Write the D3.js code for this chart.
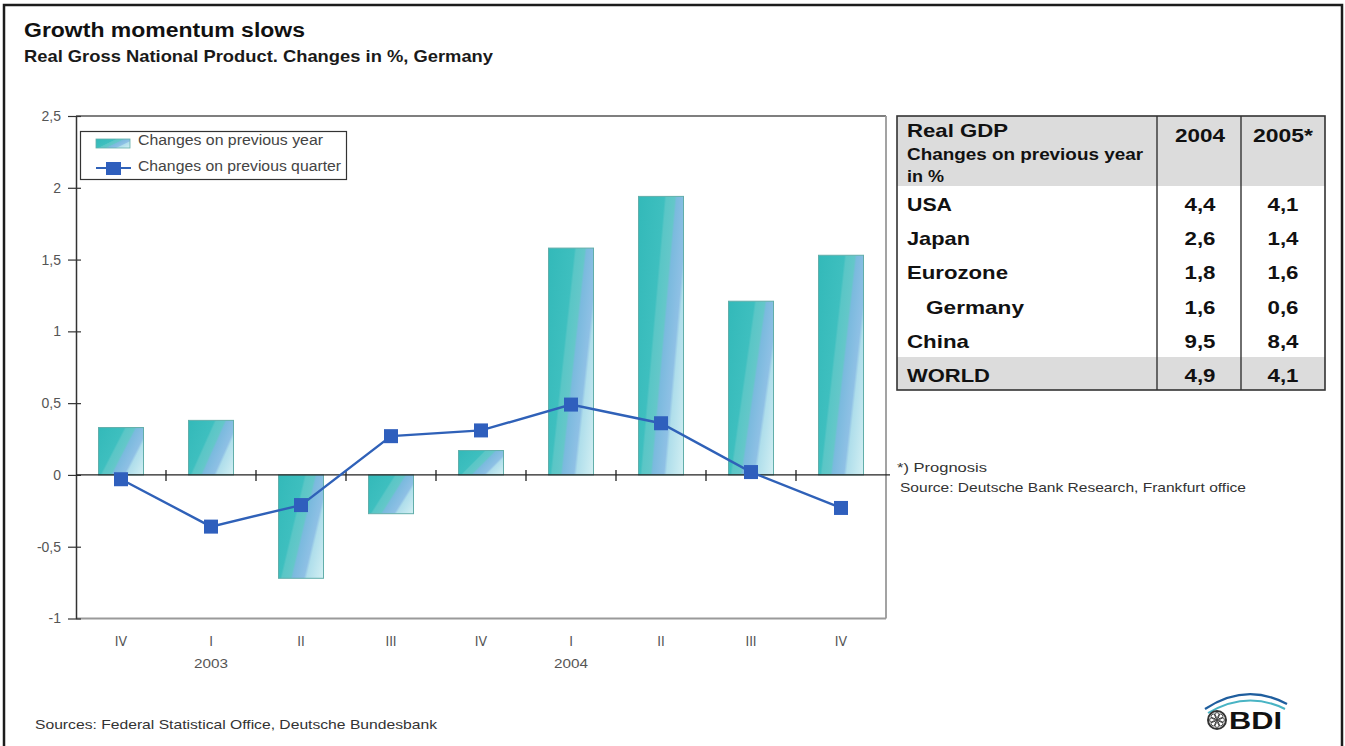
<!DOCTYPE html>
<html>
<head>
<meta charset="utf-8">
<script src="https://cdn.jsdelivr.net/npm/d3@7/dist/d3.min.js"></script>
<style>
  html, body { margin: 0; padding: 0; background: #fff; }
  svg { display: block; font-family: "Liberation Sans", Arial, sans-serif; }
</style>
</head>
<body>
<svg id="chart" width="1345" height="746"></svg>
<script>
// ---------------- data ----------------
const quarters = ["IV", "I", "II", "III", "IV", "I", "II", "III", "IV"];
const yearLabels = ["2003", "2004"];
const yearIndex = [1, 5];
const changePrevYear = [0.33, 0.38, -0.72, -0.27, 0.17, 1.58, 1.94, 1.21, 1.53];
const changePrevQuarter = [-0.03, -0.36, -0.21, 0.27, 0.31, 0.49, 0.36, 0.02, -0.23];
const yTicks = [-1, -0.5, 0, 0.5, 1, 1.5, 2, 2.5];
const legendLabels = ["Changes on previous year", "Changes on previous quarter"];

const tableRegions = ["USA", "Japan", "Eurozone", "Germany", "China", "WORLD"];
const tableIndent = [false, false, false, true, false, false];
const gdp2004 = ["4,4", "2,6", "1,8", "1,6", "9,5", "4,9"];
const gdp2005 = ["4,1", "1,4", "1,6", "0,6", "8,4", "4,1"];
const tableYears = ["2004", "2005*"];

// ---------------- setup ----------------
const svg = d3.select("#chart");
const fmt = d3.formatLocale({decimal: ",", thousands: ".", grouping: [3], currency: ["", ""], minus: "-"}).format("~g");

function fit(sel, w) { return sel.attr("textLength", w).attr("lengthAdjust", "spacingAndGlyphs"); }

// outer frame
svg.append("rect").attr("x", 4).attr("y", 5).attr("width", 1338).attr("height", 760)
  .attr("fill", "none").attr("stroke", "#1c1c1c").attr("stroke-width", 2.5);

// titles
fit(svg.append("text").attr("x", 24).attr("y", 37).attr("font-size", 19.5).attr("font-weight", "bold")
  .attr("fill", "#111").text("Growth momentum slows"), 281);
fit(svg.append("text").attr("x", 24).attr("y", 62).attr("font-size", 17).attr("font-weight", "bold")
  .attr("fill", "#1a1a1a").text("Real Gross National Product. Changes in %, Germany"), 469);

// ---------------- scales ----------------
const x = d3.scaleBand().domain(d3.range(quarters.length)).range([76, 886]).padding(0);
const y = d3.scaleLinear().domain([-1, 2.5]).range([618.5, 116]);

// gradient for bars (diagonal stripes running bottom-left to top-right)
const defs = svg.append("defs");
const grad = defs.append("linearGradient").attr("id", "barGrad")
  .attr("x1", 0).attr("y1", 0).attr("x2", 1.2).attr("y2", 0.65);
[
  [0.00, "#33b9b9"], [0.37, "#3ebfbf"], [0.40, "#5ac6c6"], [0.52, "#64c7c9"],
  [0.55, "#7bbade"], [0.71, "#8ec0e5"], [0.75, "#afdeeb"], [1.00, "#d4f0f3"]
].forEach(([o, c]) => grad.append("stop").attr("offset", o).attr("stop-color", c));

// plot frame
const gFrame = svg.append("g");
gFrame.append("line").attr("x1", 76).attr("x2", 886).attr("y1", y(2.5)).attr("y2", y(2.5))
  .attr("stroke", "#555").attr("stroke-width", 1.3);
gFrame.append("line").attr("x1", 886).attr("x2", 886).attr("y1", y(2.5)).attr("y2", y(-1))
  .attr("stroke", "#999").attr("stroke-width", 1.8);
gFrame.append("line").attr("x1", 76).attr("x2", 886).attr("y1", y(-1)).attr("y2", y(-1))
  .attr("stroke", "#9a9a9a").attr("stroke-width", 2);

// bars
svg.append("g").selectAll("rect").data(changePrevYear).join("rect")
  .attr("x", (d, i) => x(i) + x.bandwidth() * 0.25)
  .attr("width", x.bandwidth() * 0.5)
  .attr("y", d => Math.min(y(d), y(0)))
  .attr("height", d => Math.abs(y(d) - y(0)))
  .attr("fill", "url(#barGrad)")
  .attr("stroke", "#62aeaa").attr("stroke-width", 1);

// y axis
const yAxis = svg.append("g").attr("transform", "translate(76,0)")
  .call(d3.axisLeft(y).tickValues(yTicks).tickFormat(fmt).tickSizeInner(8).tickSizeOuter(0).tickPadding(7));
yAxis.select(".domain").attr("stroke", "#333").attr("stroke-width", 1.5);
yAxis.selectAll(".tick line").attr("stroke", "#333").attr("stroke-width", 1.2);
yAxis.selectAll(".tick").append("line").attr("x1", 0).attr("x2", 5).attr("stroke", "#333").attr("stroke-width", 1.2);
yAxis.selectAll(".tick text").attr("font-size", 14).attr("fill", "#555")
  .attr("font-family", "Liberation Sans, Arial, sans-serif");

// zero line with ticks at band boundaries
svg.append("line").attr("x1", 76).attr("x2", 890).attr("y1", y(0)).attr("y2", y(0))
  .attr("stroke", "#222").attr("stroke-width", 1.3);
svg.append("g").selectAll("line").data(d3.range(1, quarters.length)).join("line")
  .attr("x1", i => x(i)).attr("x2", i => x(i))
  .attr("y1", y(0) - 5).attr("y2", y(0) + 6)
  .attr("stroke", "#222").attr("stroke-width", 1.3);

// x labels
svg.append("g").selectAll("text").data(quarters).join("text")
  .attr("x", (d, i) => x(i) + x.bandwidth() / 2).attr("y", 646)
  .attr("text-anchor", "middle").attr("font-size", 14).attr("fill", "#555")
  .attr("font-family", "DejaVu Sans Condensed, Liberation Sans Narrow, sans-serif")
  .text(d => d);
svg.append("g").selectAll("text").data(yearLabels).join("text")
  .attr("x", (d, i) => x(yearIndex[i]) + x.bandwidth() / 2).attr("y", 668)
  .attr("text-anchor", "middle").attr("font-size", 13).attr("fill", "#555")
  .text(d => d).each(function() { fit(d3.select(this), 34); });

// line series
const lineGen = d3.line().x((d, i) => x(i) + x.bandwidth() / 2).y(d => y(d));
svg.append("path").datum(changePrevQuarter).attr("d", lineGen)
  .attr("fill", "none").attr("stroke", "#2f61b8").attr("stroke-width", 2.4);
svg.append("g").selectAll("rect").data(changePrevQuarter).join("rect")
  .attr("x", (d, i) => x(i) + x.bandwidth() / 2 - 7).attr("y", d => y(d) - 7)
  .attr("width", 14).attr("height", 14).attr("fill", "#2f5fbd");

// legend
const lg = svg.append("g");
lg.append("rect").attr("x", 80.5).attr("y", 131.5).attr("width", 266).attr("height", 48)
  .attr("fill", "#fff").attr("stroke", "#333").attr("stroke-width", 1.2);
lg.append("rect").attr("x", 96).attr("y", 139).attr("width", 34).attr("height", 9)
  .attr("fill", "url(#barGrad)").attr("stroke", "#62aeaa").attr("stroke-width", 0.8);
lg.append("line").attr("x1", 96).attr("x2", 131).attr("y1", 168).attr("y2", 168)
  .attr("stroke", "#2f61b8").attr("stroke-width", 2.2);
lg.append("rect").attr("x", 106).attr("y", 162).attr("width", 15).attr("height", 13).attr("fill", "#2f5fbd");
fit(lg.append("text").attr("x", 138).attr("y", 145).attr("font-size", 14).attr("fill", "#444").text(legendLabels[0]), 185);
fit(lg.append("text").attr("x", 138).attr("y", 171).attr("font-size", 14).attr("fill", "#444").text(legendLabels[1]), 203);

// ---------------- table ----------------
const tb = svg.append("g");
const tX0 = 897, tX1 = 1325, tC1 = 1157, tC2 = 1241, tY0 = 116, tYH = 186, tYW = 357, tY1 = 390;
tb.append("rect").attr("x", tX0).attr("y", tY0).attr("width", tX1 - tX0).attr("height", tYH - tY0).attr("fill", "#dcdcdc");
tb.append("rect").attr("x", tX0).attr("y", tYW).attr("width", tX1 - tX0).attr("height", tY1 - tYW).attr("fill", "#dcdcdc");
tb.append("rect").attr("x", tX0).attr("y", tY0).attr("width", tX1 - tX0).attr("height", tY1 - tY0)
  .attr("fill", "none").attr("stroke", "#333").attr("stroke-width", 1.6);
[tC1, tC2].forEach(cx => tb.append("line").attr("x1", cx).attr("x2", cx).attr("y1", tY0).attr("y2", tY1)
  .attr("stroke", "#333").attr("stroke-width", 1.4));

fit(tb.append("text").attr("x", 907).attr("y", 137).attr("font-size", 19).attr("font-weight", "bold").attr("fill", "#111").text("Real GDP"), 101);
fit(tb.append("text").attr("x", 907).attr("y", 160).attr("font-size", 16).attr("font-weight", "bold").attr("fill", "#111").text("Changes on previous year"), 236);
fit(tb.append("text").attr("x", 907).attr("y", 182).attr("font-size", 16).attr("font-weight", "bold").attr("fill", "#111").text("in %"), 37);
const colCenters = [1200, 1283];
const yearW = [50, 60];
tableYears.forEach((t, i) => fit(tb.append("text").attr("x", colCenters[i]).attr("y", 142).attr("text-anchor", "middle")
  .attr("font-size", 19).attr("font-weight", "bold").attr("fill", "#111").text(t), yearW[i]));

const rowBase = [211, 245, 279, 314, 348, 382];
const regionW = [45, 63, 101, 98, 62, 83];
tableRegions.forEach((r, i) => {
  fit(tb.append("text").attr("x", tableIndent[i] ? 926 : 907).attr("y", rowBase[i])
    .attr("font-size", 19).attr("font-weight", "bold").attr("fill", "#111").text(r), regionW[i]);
  fit(tb.append("text").attr("x", colCenters[0]).attr("y", rowBase[i]).attr("text-anchor", "middle")
    .attr("font-size", 19).attr("font-weight", "bold").attr("fill", "#111").text(gdp2004[i]), 31);
  fit(tb.append("text").attr("x", colCenters[1]).attr("y", rowBase[i]).attr("text-anchor", "middle")
    .attr("font-size", 19).attr("font-weight", "bold").attr("fill", "#111").text(gdp2005[i]), 31);
});

// notes
fit(svg.append("text").attr("x", 897).attr("y", 472).attr("font-size", 13).attr("fill", "#333").text("*) Prognosis"), 90);
fit(svg.append("text").attr("x", 900).attr("y", 492).attr("font-size", 13).attr("fill", "#333").text("Source: Deutsche Bank Research, Frankfurt office"), 346);
fit(svg.append("text").attr("x", 35).attr("y", 729).attr("font-size", 13).attr("fill", "#333").text("Sources: Federal Statistical Office, Deutsche Bundesbank"), 402);

// BDI logo
const logo = svg.append("g");
logo.append("path").attr("d", "M1205,709 Q1246,682 1287,704").attr("fill", "none").attr("stroke", "#1f5e9e").attr("stroke-width", 2.2);
logo.append("path").attr("d", "M1208,713 Q1247,690 1285,709").attr("fill", "none").attr("stroke", "#49b4c4").attr("stroke-width", 2);
logo.append("circle").attr("cx", 1217).attr("cy", 720).attr("r", 9).attr("fill", "#fff").attr("stroke", "#333").attr("stroke-width", 2);
d3.range(8).forEach(k => {
  const a = k * Math.PI / 4;
  logo.append("circle").attr("cx", 1217 + 5 * Math.cos(a)).attr("cy", 720 + 5 * Math.sin(a)).attr("r", 2.4)
    .attr("fill", "none").attr("stroke", "#444").attr("stroke-width", 1);
});
logo.append("circle").attr("cx", 1217).attr("cy", 720).attr("r", 2).attr("fill", "#444");
fit(logo.append("text").attr("x", 1229).attr("y", 729).attr("font-size", 23).attr("font-weight", "bold").attr("fill", "#111").text("BDI"), 53);
</script>
</body>
</html>
